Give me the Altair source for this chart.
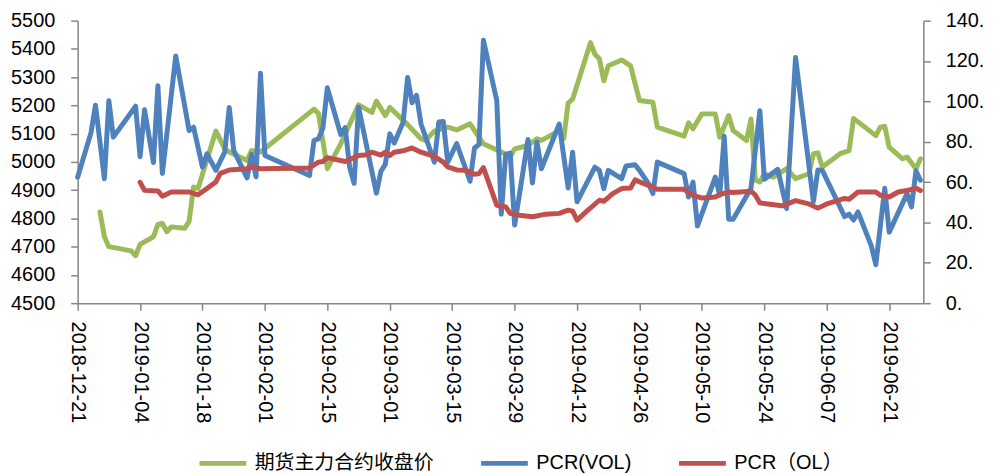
import altair as alt
import pandas as pd

S_PRICE = "期货主力合约收盘价"
S_VOL = "PCR(VOL)"
S_OL = "PCR（OL）"

price_dates = [
    "2018-12-26", "2018-12-27", "2018-12-28", "2019-01-02", "2019-01-03", "2019-01-04",
    "2019-01-07", "2019-01-08", "2019-01-09", "2019-01-10", "2019-01-11", "2019-01-14",
    "2019-01-15", "2019-01-16", "2019-01-17", "2019-01-21", "2019-01-23", "2019-01-24",
    "2019-01-28", "2019-01-29", "2019-01-31", "2019-02-12", "2019-02-13", "2019-02-15",
    "2019-02-18", "2019-02-22", "2019-02-25", "2019-02-26", "2019-02-28", "2019-03-01",
    "2019-03-05", "2019-03-08", "2019-03-09", "2019-03-11", "2019-03-14", "2019-03-16",
    "2019-03-19", "2019-03-22", "2019-03-27", "2019-03-28", "2019-03-29", "2019-04-01",
    "2019-04-03", "2019-04-04", "2019-04-06", "2019-04-08", "2019-04-09", "2019-04-10",
    "2019-04-11", "2019-04-15", "2019-04-16", "2019-04-17", "2019-04-18", "2019-04-19",
    "2019-04-22", "2019-04-24", "2019-04-26", "2019-04-29", "2019-04-30", "2019-05-06",
    "2019-05-07", "2019-05-08", "2019-05-10", "2019-05-13", "2019-05-14", "2019-05-16",
    "2019-05-17", "2019-05-20", "2019-05-21", "2019-05-22", "2019-05-23", "2019-05-24",
    "2019-05-26", "2019-05-29", "2019-05-31", "2019-06-03", "2019-06-04", "2019-06-05",
    "2019-06-06", "2019-06-10", "2019-06-12", "2019-06-13", "2019-06-18", "2019-06-19",
    "2019-06-20", "2019-06-21", "2019-06-24", "2019-06-25", "2019-06-27", "2019-06-28",
]
price_values = [
    4823, 4735, 4700, 4685, 4668, 4708,
    4735, 4779, 4782, 4753, 4770, 4765,
    4790, 4911, 4906, 5109, 5046, 5035,
    5005, 5040, 5035, 5187, 5171, 4976,
    5064, 5202, 5175, 5215, 5164, 5193,
    5132, 5082, 5076, 5109, 5123, 5113,
    5135, 5064, 5028, 5017, 5046, 5058,
    5082, 5076, 5093, 5111, 5082, 5208,
    5222, 5422, 5381, 5365, 5287, 5340,
    5361, 5340, 5217, 5211, 5123, 5091,
    5138, 5117, 5170, 5170, 5087, 5164,
    5111, 5076, 5152, 4935, 4929, 4958,
    4946, 4976, 4941, 4958, 5029, 5032,
    4982, 5029, 5040, 5154, 5093, 5123,
    5126, 5052, 5011, 5017, 4976, 5011,
]

vol_dates = [
    "2018-12-21", "2018-12-24", "2018-12-25", "2018-12-27", "2018-12-28", "2018-12-29",
    "2019-01-03", "2019-01-04", "2019-01-05", "2019-01-07", "2019-01-08", "2019-01-09",
    "2019-01-12", "2019-01-15", "2019-01-16", "2019-01-18", "2019-01-19", "2019-01-21",
    "2019-01-23", "2019-01-24", "2019-01-25", "2019-01-28", "2019-01-29", "2019-01-30",
    "2019-01-31", "2019-02-01", "2019-02-11", "2019-02-12", "2019-02-13", "2019-02-14",
    "2019-02-15", "2019-02-18", "2019-02-19", "2019-02-20", "2019-02-21", "2019-02-22",
    "2019-02-26", "2019-02-27", "2019-02-28", "2019-03-01", "2019-03-02", "2019-03-04",
    "2019-03-05", "2019-03-06", "2019-03-07", "2019-03-08", "2019-03-11", "2019-03-12",
    "2019-03-13", "2019-03-14", "2019-03-16", "2019-03-19", "2019-03-20", "2019-03-21",
    "2019-03-22", "2019-03-25", "2019-03-26", "2019-03-27", "2019-03-28", "2019-03-29",
    "2019-04-01", "2019-04-02", "2019-04-03", "2019-04-04", "2019-04-08", "2019-04-10",
    "2019-04-11", "2019-04-12", "2019-04-16", "2019-04-17", "2019-04-18", "2019-04-19",
    "2019-04-22", "2019-04-23", "2019-04-25", "2019-04-26", "2019-04-28", "2019-04-29",
    "2019-04-30", "2019-05-06", "2019-05-07", "2019-05-08", "2019-05-09", "2019-05-13",
    "2019-05-14", "2019-05-15", "2019-05-16", "2019-05-17", "2019-05-21", "2019-05-23",
    "2019-05-24", "2019-05-27", "2019-05-29", "2019-05-31", "2019-06-04", "2019-06-05",
    "2019-06-06", "2019-06-11", "2019-06-12", "2019-06-13", "2019-06-14", "2019-06-17",
    "2019-06-18", "2019-06-20", "2019-06-21", "2019-06-25", "2019-06-26", "2019-06-27",
    "2019-06-28",
]
vol_values = [
    62.4, 84.5, 98.1, 61.7, 100.3, 82.3,
    97.6, 72.5, 95.8, 69.7, 107.7, 64.3,
    122.5, 85.5, 87.2, 67.4, 74.0, 65.8,
    75.0, 97.0, 75.7, 62.1, 73.7, 62.6,
    113.9, 73.2, 63.3, 80.6, 81.4, 86.8,
    106.7, 83.6, 87.0, 67.3, 59.4, 97.1,
    54.5, 65.3, 68.8, 83.9, 79.4, 89.6,
    111.8, 99.3, 103.0, 88.8, 69.9, 89.8,
    90.0, 69.9, 79.1, 60.4, 76.9, 78.6,
    130.3, 100.3, 44.1, 73.7, 74.4, 38.7,
    81.1, 59.6, 79.8, 66.6, 88.8, 57.1,
    74.8, 50.2, 67.4, 65.8, 56.8, 65.8,
    61.7, 68.0, 68.6, 65.8, 59.2, 54.3,
    69.9, 64.2, 52.6, 60.0, 38.3, 62.5,
    53.5, 82.7, 41.6, 41.6, 57.0, 95.4,
    61.4, 66.3, 46.9, 121.7, 50.3, 66.0,
    65.8, 42.9, 44.1, 41.2, 45.2, 28.3,
    19.1, 56.9, 35.2, 54.3, 47.7, 65.6,
    60.9,
]

ol_dates = [
    "2019-01-04", "2019-01-05", "2019-01-08", "2019-01-09", "2019-01-11", "2019-01-15",
    "2019-01-17", "2019-01-19", "2019-01-21", "2019-01-22", "2019-01-24", "2019-01-28",
    "2019-01-29", "2019-01-31", "2019-02-11", "2019-02-13", "2019-02-14", "2019-02-15",
    "2019-02-19", "2019-02-22", "2019-02-24", "2019-02-25", "2019-02-27", "2019-02-28",
    "2019-03-01", "2019-03-02", "2019-03-04", "2019-03-06", "2019-03-08", "2019-03-11",
    "2019-03-13", "2019-03-14", "2019-03-16", "2019-03-18", "2019-03-20", "2019-03-21",
    "2019-03-22", "2019-03-25", "2019-03-27", "2019-03-28", "2019-03-30", "2019-04-02",
    "2019-04-05", "2019-04-08", "2019-04-10", "2019-04-11", "2019-04-12", "2019-04-14",
    "2019-04-17", "2019-04-18", "2019-04-20", "2019-04-22", "2019-04-24", "2019-04-25",
    "2019-04-27", "2019-04-29", "2019-04-30", "2019-05-06", "2019-05-08", "2019-05-10",
    "2019-05-13", "2019-05-14", "2019-05-16", "2019-05-17", "2019-05-21", "2019-05-22",
    "2019-05-23", "2019-05-27", "2019-05-28", "2019-05-31", "2019-06-03", "2019-06-05",
    "2019-06-07", "2019-06-11", "2019-06-12", "2019-06-14", "2019-06-18", "2019-06-19",
    "2019-06-21", "2019-06-23", "2019-06-25", "2019-06-27", "2019-06-28",
]
ol_values = [
    59.9, 55.9, 55.6, 53.0, 55.1, 55.1,
    53.7, 56.8, 60.1, 64.3, 66.0, 66.6,
    67.8, 66.6, 67.0, 69.9, 70.2, 72.1,
    70.2, 73.2, 73.5, 74.8, 73.4, 74.8,
    73.2, 74.8, 75.5, 76.9, 74.8, 72.7,
    69.9, 67.5, 66.0, 65.8, 63.9, 64.2,
    67.2, 48.5, 47.7, 44.5, 43.6, 42.8,
    44.1, 44.5, 46.1, 45.6, 41.2, 45.2,
    51.0, 50.5, 54.3, 56.8, 57.1, 61.1,
    59.2, 57.6, 56.4, 56.4, 53.5, 52.1,
    52.6, 53.8, 55.1, 54.8, 55.5, 53.5,
    49.7, 48.5, 48.2, 50.8, 49.2, 47.1,
    49.2, 51.9, 51.5, 55.1, 55.1, 53.5,
    52.6, 55.1, 55.9, 56.9, 55.8,
]

tick_dates = [
    "2018-12-21", "2019-01-04", "2019-01-18", "2019-02-01", "2019-02-15", "2019-03-01",
    "2019-03-15", "2019-03-29", "2019-04-12", "2019-04-26", "2019-05-10", "2019-05-24",
    "2019-06-07", "2019-06-21",
]
left_ticks = [4500, 4600, 4700, 4800, 4900, 5000, 5100, 5200, 5300, 5400, 5500]
right_ticks = [0, 20, 40, 60, 80, 100, 120, 140]

series_names = [S_PRICE, S_VOL, S_OL]
series_colors = ["#9BBB59", "#4F81BD", "#C0504D"]


def to_dt(s, hours=0, minutes=0):
    y, m, d = (int(p) for p in s.split("-"))
    return alt.DateTime(year=y, month=m, date=d, hours=hours, minutes=minutes, utc=True)


df = pd.concat([
    pd.DataFrame({"date": price_dates, "value": price_values, "series": S_PRICE}),
    pd.DataFrame({"date": vol_dates, "value": vol_values, "series": S_VOL}),
    pd.DataFrame({"date": ol_dates, "value": ol_values, "series": S_OL}),
], ignore_index=True)

FONT = "Liberation Sans"
AXIS_GRAY = "#868686"

x_enc = alt.X(
    "date:T",
    title=None,
    scale=alt.Scale(type="utc", domain=[to_dt("2018-12-21"), to_dt("2019-06-28", 15, 36)]),
    axis=alt.Axis(
        values=[to_dt(t) for t in tick_dates],
        labelExpr="utcFormat(datum.value, '%Y-%m-%d')",
        labelAngle=90,
        labelPadding=11,
        labelFlush=False,
        labelOverlap=False,
    ),
)

legend = alt.Legend(
    orient="none",
    legendX=120,
    legendY=419,
    direction="horizontal",
    columns=3,
    title=None,
    symbolType="stroke",
    symbolSize=2209,
    symbolStrokeWidth=5,
    labelFont="Liberation Sans, Noto Sans CJK SC",
    labelFontSize=20,
    labelColor="black",
    labelOffset=6,
    labelLimit=400,
    columnPadding=37,
)

color_enc = alt.Color(
    "series:N",
    scale=alt.Scale(domain=series_names, range=series_colors),
    legend=legend,
)

line_kw = dict(strokeWidth=5, strokeJoin="round", strokeCap="round")

price = alt.Chart(df).transform_filter(
    alt.datum.series == S_PRICE
).mark_line(**line_kw).encode(
    x=x_enc,
    y=alt.Y(
        "value:Q",
        title=None,
        scale=alt.Scale(domain=[4500, 5500], nice=False, zero=False),
        axis=alt.Axis(orient="left", values=left_ticks, format="d", labelPadding=16,
                      labelFlush=False),
    ),
    color=color_enc,
)

pcr = alt.Chart(df).transform_filter(
    (alt.datum.series == S_VOL) | (alt.datum.series == S_OL)
).mark_line(**line_kw).encode(
    x=x_enc,
    y=alt.Y(
        "value:Q",
        title=None,
        scale=alt.Scale(domain=[0, 140], nice=False, zero=False),
        axis=alt.Axis(orient="right", values=right_ticks, labelExpr="datum.value + '.'",
                      labelPadding=15, labelFlush=False),
    ),
    color=color_enc,
)

chart = alt.layer(price, pcr).resolve_scale(y="independent").properties(
    width=850,
    height=284,
    padding={"left": 70, "top": 11.5, "right": 62, "bottom": 171},
    autosize=alt.AutoSizeParams(type="none"),
).configure_view(
    strokeWidth=0
).configure_axis(
    grid=False,
    domainColor=AXIS_GRAY,
    domainWidth=1.5,
    tickColor=AXIS_GRAY,
    tickWidth=1.5,
    tickSize=7,
    labelFont=FONT,
    labelFontSize=20,
    labelColor="black",
)

chart.save("out.html", embed_options={"renderer": "svg", "actions": False})
